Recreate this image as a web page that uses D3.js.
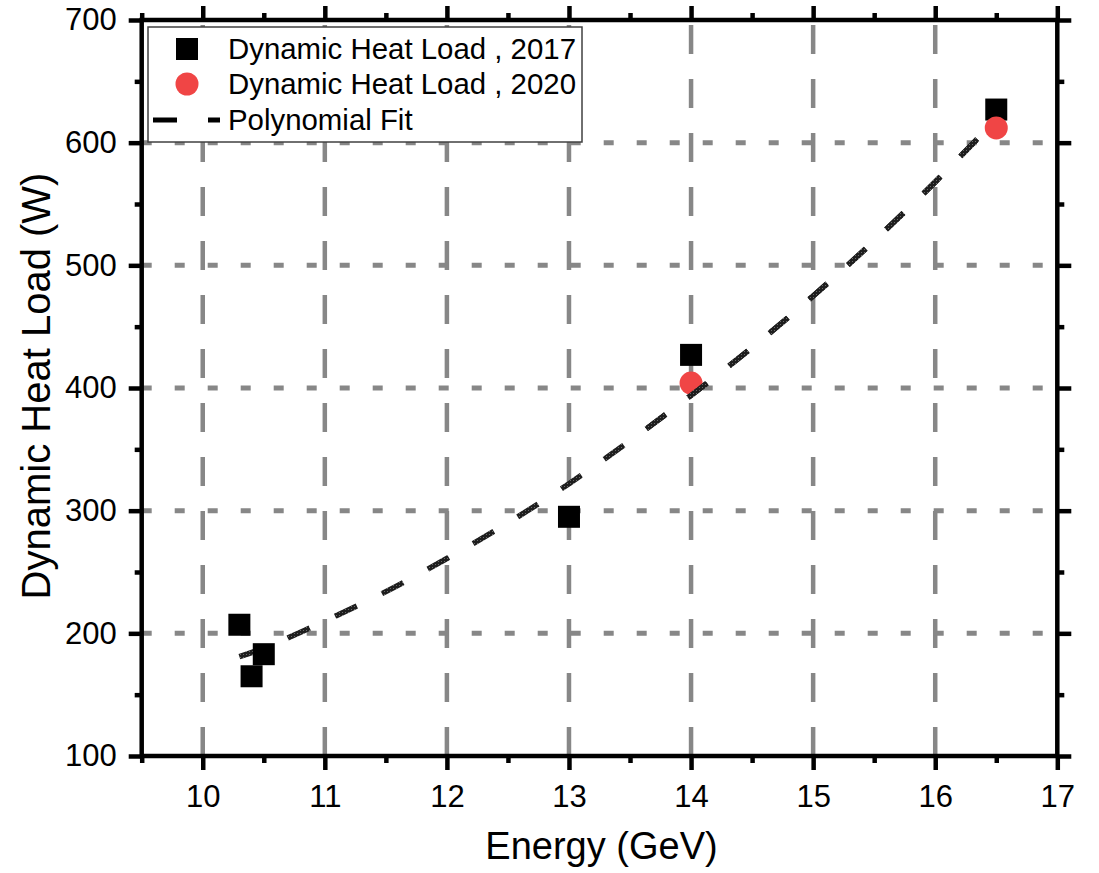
<!DOCTYPE html>
<html>
<head>
<meta charset="utf-8">
<script src="https://cdn.jsdelivr.net/npm/d3@7"></script>
<style>
  html, body { margin: 0; padding: 0; background: #fff; }
  svg { display: block; }
  text { font-family: "Liberation Sans", Arial, sans-serif; fill: #000; }
</style>
</head>
<body>
<svg id="chart" width="1099" height="873"></svg>
<script>
// ---- data ----
const xMajorTicks = [10, 11, 12, 13, 14, 15, 16, 17];
const xMinorTicks = [9.5, 10.5, 11.5, 12.5, 13.5, 14.5, 15.5, 16.5];
const yMajorTicks = [100, 200, 300, 400, 500, 600, 700];
const yMinorTicks = [150, 250, 350, 450, 550, 650];
const xGrid = [10, 11, 12, 13, 14, 15, 16];
const yGrid = [200, 300, 400, 500, 600];

const energy2017 = [10.3, 10.4, 10.5, 13, 14, 16.5];
const load2017   = [207, 165, 183, 295, 427, 627];
const energy2020 = [14, 16.5];
const load2020   = [404, 612];
const fitEnergy  = [10.3, 10.5, 11, 11.5, 12, 12.5, 13, 13.5, 14, 14.5, 15, 15.5, 16, 16.5];
const fitLoad    = [181, 188, 210, 234, 261, 290, 322, 357, 394, 433, 475, 520, 568, 619];

const legendLabels = ["Dynamic Heat Load , 2017", "Dynamic Heat Load , 2020", "Polynomial Fit"];
const xTitle = "Energy (GeV)";
const yTitle = "Dynamic Heat Load (W)";

// ---- layout ----
const svg = d3.select("#chart");
const L = 141.7, R = 1057.3, T = 20, B = 756;
const x = d3.scaleLinear().domain([9.5, 17]).range([L, R]);
const y = d3.scaleLinear().domain([100, 700]).range([B, T]);
const gridColor = "#878787";
const redColor = "#f04545";

svg.append("rect").attr("width", 1099).attr("height", 873).attr("fill", "#fff");

// hatch pattern for the fit line texture
const defs = svg.append("defs");
const pat = defs.append("pattern").attr("id", "hatch").attr("patternUnits", "userSpaceOnUse")
  .attr("width", 3).attr("height", 3);
pat.append("rect").attr("width", 3).attr("height", 3).attr("fill", "#1e1e1e");
pat.append("rect").attr("width", 1).attr("height", 1).attr("fill", "#6a6a6a");

// grid
const grid = svg.append("g");
grid.selectAll("line.v").data(xGrid).enter().append("line")
  .attr("x1", d => x(d)).attr("x2", d => x(d))
  .attr("y1", B).attr("y2", T)
  .attr("stroke", gridColor).attr("stroke-width", 4.5)
  .attr("stroke-dasharray", "29,25");
grid.selectAll("line.h").data(yGrid).enter().append("line")
  .attr("x1", L).attr("x2", R)
  .attr("y1", d => y(d)).attr("y2", d => y(d))
  .attr("stroke", gridColor).attr("stroke-width", 5)
  .attr("stroke-dasharray", "10,23");

// fit line
const fitData = fitEnergy.map((e, i) => [e, fitLoad[i]]);
const lineGen = d3.line().x(d => x(d[0])).y(d => y(d[1])).curve(d3.curveCatmullRom);
function drawFit(parent) {
  return parent.append("path").datum(fitData)
    .attr("d", lineGen)
    .attr("fill", "none")
    .attr("stroke", "url(#hatch)")
    .attr("stroke-width", 5.5)
    .attr("stroke-dasharray", "24,28");
}
drawFit(svg);

// squares (2017)
const sq = 22;
svg.selectAll("rect.s17").data(energy2017.map((e, i) => [e, load2017[i]])).enter().append("rect")
  .attr("x", d => x(d[0]) - sq / 2).attr("y", d => y(d[1]) - sq / 2)
  .attr("width", sq).attr("height", sq).attr("fill", "#000");

// circles (2020)
svg.selectAll("circle.c20").data(energy2020.map((e, i) => [e, load2020[i]])).enter().append("circle")
  .attr("cx", d => x(d[0])).attr("cy", d => y(d[1])).attr("r", 11.5)
  .attr("fill", redColor);

// fit line again on top in the right part (over circles)
defs.append("clipPath").attr("id", "rightClip").append("rect")
  .attr("x", x(13.5)).attr("y", 0).attr("width", R - x(13.5)).attr("height", 873);
drawFit(svg).attr("clip-path", "url(#rightClip)");

// axes
const fontTicks = "31px";
function styleAxis(g) {
  g.select(".domain").remove();
  g.selectAll(".tick line").attr("stroke", "#000").attr("stroke-width", 4.5);
  g.selectAll(".tick text").style("font-size", fontTicks).style("font-family", "'Liberation Sans', Arial, sans-serif").attr("fill", "#000");
}
svg.append("g").attr("transform", `translate(0,${B})`)
  .call(d3.axisBottom(x).tickValues(xMajorTicks).tickSize(14).tickPadding(15).tickFormat(d3.format("d")))
  .call(styleAxis);
svg.append("g").attr("transform", `translate(0,${B})`)
  .call(d3.axisBottom(x).tickValues(xMinorTicks).tickSize(7).tickFormat(""))
  .call(styleAxis);
svg.append("g").attr("transform", `translate(0,${T})`)
  .call(d3.axisTop(x).tickValues(xMajorTicks).tickSize(14).tickFormat(""))
  .call(styleAxis);
svg.append("g").attr("transform", `translate(0,${T})`)
  .call(d3.axisTop(x).tickValues(xMinorTicks).tickSize(7).tickFormat(""))
  .call(styleAxis);
svg.append("g").attr("transform", `translate(${L},0)`)
  .call(d3.axisLeft(y).tickValues(yMajorTicks).tickSize(13).tickPadding(12).tickFormat(d3.format("d")))
  .call(styleAxis);
svg.append("g").attr("transform", `translate(${L},0)`)
  .call(d3.axisLeft(y).tickValues(yMinorTicks).tickSize(7).tickFormat(""))
  .call(styleAxis);
svg.append("g").attr("transform", `translate(${R},0)`)
  .call(d3.axisRight(y).tickValues(yMajorTicks).tickSize(14).tickFormat(""))
  .call(styleAxis);
svg.append("g").attr("transform", `translate(${R},0)`)
  .call(d3.axisRight(y).tickValues(yMinorTicks).tickSize(7).tickFormat(""))
  .call(styleAxis);

// frame
svg.append("rect").attr("x", L).attr("y", T).attr("width", R - L).attr("height", B - T)
  .attr("fill", "none").attr("stroke", "#000").attr("stroke-width", 4.5);

// titles
svg.append("text").attr("x", (L + R) / 2 + 2).attr("y", 859)
  .attr("text-anchor", "middle").style("font-size", "38px").text(xTitle);
svg.append("text").attr("transform", "translate(50,386) rotate(-90)")
  .attr("text-anchor", "middle").style("font-size", "40px").text(yTitle);

// legend
const lg = svg.append("g");
lg.append("rect").attr("x", 148).attr("y", 27).attr("width", 434).attr("height", 115)
  .attr("fill", "#fff").attr("stroke", "#404040").attr("stroke-width", 1.5);
const rowY = [49, 84, 120];
lg.append("rect").attr("x", 187 - sq / 2).attr("y", rowY[0] - sq / 2).attr("width", sq).attr("height", sq).attr("fill", "#000");
lg.append("circle").attr("cx", 187).attr("cy", rowY[1]).attr("r", 11.5).attr("fill", redColor);
lg.append("line").attr("x1", 153).attr("x2", 220).attr("y1", rowY[2]).attr("y2", rowY[2])
  .attr("stroke", "#000").attr("stroke-width", 5).attr("stroke-dasharray", "24,31");
lg.selectAll("text.lt").data(legendLabels).enter().append("text")
  .attr("x", 228).attr("y", (d, i) => rowY[i] + 9.5)
  .style("font-size", "29.4px").text(d => d);
</script>
</body>
</html>
